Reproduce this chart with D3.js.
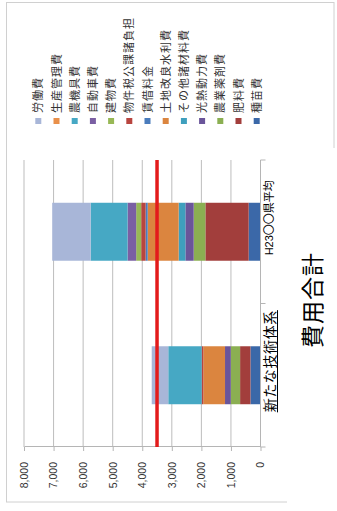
<!DOCTYPE html>
<html><head><meta charset="utf-8">
<script src="https://cdn.jsdelivr.net/npm/d3@7"></script>
<style>body{margin:0;background:#fff}svg{display:block}</style>
</head><body>
<script>
// ---- data ----
const categories = ["新たな技術体系", "H23〇〇県平均"];
// stacking order, bottom to top
const seriesNames = ["種苗費","肥料費","農業薬剤費","光熱動力費","その他諸材料費","土地改良水利費","賃借料金","物件税公課諸負担","建物費","自動車費","農機具費","生産管理費","労働費"];
const seriesColors = ["#3B68A8","#A23E3C","#8BAF52","#6A559A","#3F9FBD","#DB853F","#4A7CBC","#B8453F","#98B856","#7A5FA3","#46A8C4","#E9904A","#A8B6D8"];
const newSystemValues   = [340, 350, 315, 195, 0, 735, 0, 55, 0, 0, 1130, 0, 560];
const prefAverageValues = [400, 1465, 395, 281, 227, 1048, 70, 150, 170, 290, 1250, 0, 1300];
const referenceValue = 3500;
const valueTicks = [0,1000,2000,3000,4000,5000,6000,7000,8000];
const chartTitle = "費用合計";

// ---- layout ----
const W = 337, H = 511;
const FONT = "'Liberation Sans','Noto Sans CJK JP',sans-serif";
const svg = d3.select("body").append("svg").attr("width", W).attr("height", H);
svg.append("rect").attr("width", W).attr("height", H).attr("fill", "#fff");
svg.append("rect").attr("x", 6.5).attr("y", 2.5).attr("width", 327.5).attr("height", 499.5)
  .attr("fill", "none").attr("stroke", "#D0D0D0");
svg.append("rect").attr("x", 287).attr("y", 148).attr("width", 50).attr("height", 363).attr("fill", "#fff");

// chart drawn unrotated in a 511 x 337 frame, then rotated 90deg counter-clockwise
const g = svg.append("g").attr("transform", `translate(0,${H}) rotate(-90)`);

const x = d3.scaleBand().domain(categories).range([64, 351]).padding(0);
const y = d3.scaleLinear().domain([0, 8000]).range([260.5, 24]);
const barW = x.bandwidth() * 0.404;

// gridlines
g.append("g").selectAll("line").data(valueTicks.filter(t => t > 0)).join("line")
  .attr("x1", 64).attr("x2", 351).attr("y1", d => y(d)).attr("y2", d => y(d))
  .attr("stroke", "#BDBDBD").attr("stroke-width", 1);

// value axis
const yAxis = g.append("g").attr("transform", "translate(64,0)")
  .call(d3.axisLeft(y).tickValues(valueTicks).tickFormat(d3.format(",")).tickSize(4).tickSizeOuter(0).tickPadding(11));
yAxis.select(".domain").attr("stroke", "#B5B5B5");
yAxis.selectAll(".tick line").attr("stroke", "#B5B5B5");
yAxis.selectAll("text").attr("font-family", FONT).attr("font-size", 10.5).attr("fill", "#333");

// stacked bars
const rows = categories.map((c, i) => {
  const vals = i === 0 ? newSystemValues : prefAverageValues;
  const r = { cat: c };
  seriesNames.forEach((s, j) => r[s] = vals[j]);
  return r;
});
const stacked = d3.stack().keys(seriesNames)(rows);
g.append("g").selectAll("g").data(stacked).join("g")
  .attr("fill", (d, i) => seriesColors[i])
  .selectAll("rect").data(d => d).join("rect")
  .attr("x", d => x(d.data.cat) + (x.bandwidth() - barW) / 2)
  .attr("width", barW)
  .attr("y", d => y(d[1]))
  .attr("height", d => y(d[0]) - y(d[1]));

// category axis
g.append("line").attr("x1", 64).attr("x2", 351).attr("y1", y(0)).attr("y2", y(0))
  .attr("stroke", "#B5B5B5");
const bounds = [x.range()[0], x(categories[1]), x.range()[1]];
g.append("g").selectAll("line").data(bounds).join("line")
  .attr("x1", d => d).attr("x2", d => d).attr("y1", y(0)).attr("y2", y(0) + 5)
  .attr("stroke", "#B5B5B5");

// reference line
g.append("line").attr("x1", 64).attr("x2", 351).attr("y1", y(referenceValue)).attr("y2", y(referenceValue))
  .attr("stroke", "#E31B1B").attr("stroke-width", 3.5);

// category labels
const cx0 = x(categories[0]) + x.bandwidth() / 2 + 14;
const lab0 = g.append("text").text(categories[0])
  .attr("x", cx0).attr("y", 270)
  .attr("text-anchor", "middle").attr("dominant-baseline", "central")
  .attr("font-family", FONT).attr("font-size", 14).attr("letter-spacing", 0.6).attr("fill", "#000");
const len0 = lab0.node().getComputedTextLength();
g.append("line").attr("x1", cx0 - len0 / 2).attr("x2", cx0 + len0 / 2)
  .attr("y1", 277.5).attr("y2", 277.5).attr("stroke", "#000").attr("stroke-width", 1);
g.append("text").text(categories[1])
  .attr("x", x(categories[1]) + x.bandwidth() / 2 + 14).attr("y", 269)
  .attr("text-anchor", "middle").attr("dominant-baseline", "central")
  .attr("font-family", FONT).attr("font-size", 11).attr("fill", "#000");

// legend (top series first)
const legendNames = seriesNames.slice().reverse();
const legendColors = seriesColors.slice().reverse();
const leg = g.append("g").selectAll("g").data(legendNames).join("g")
  .attr("transform", (d, i) => `translate(387,${38.3 + i * 18.2})`);
leg.append("rect").attr("x", 0).attr("y", -3).attr("width", 6).attr("height", 6)
  .attr("fill", (d, i) => legendColors[i]);
leg.append("text").text(d => d).attr("x", 11).attr("y", 0)
  .attr("dominant-baseline", "central").attr("font-family", FONT)
  .attr("font-size", 11).attr("letter-spacing", 1).attr("fill", "#333");

// title
g.append("text").text(chartTitle).attr("x", 211).attr("y", 312.5)
  .attr("text-anchor", "middle").attr("dominant-baseline", "central")
  .attr("font-family", FONT).attr("font-size", 23).attr("letter-spacing", 1).attr("fill", "#000");
</script>
</body></html>
